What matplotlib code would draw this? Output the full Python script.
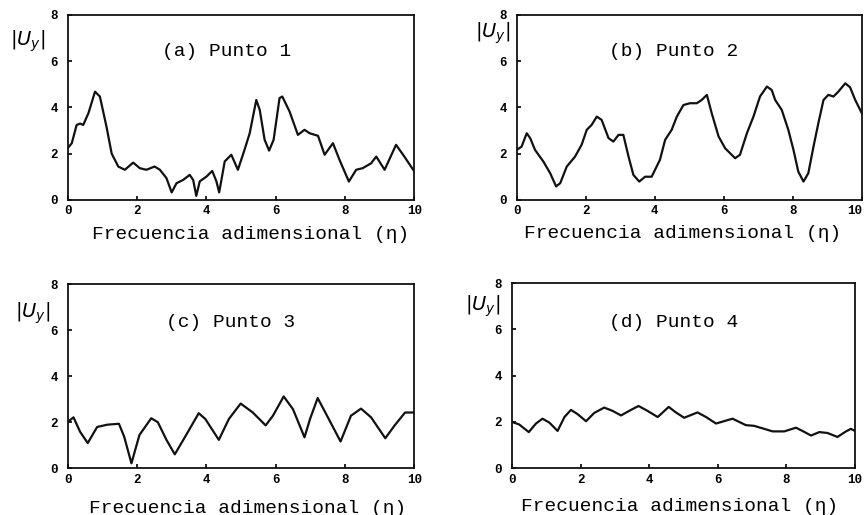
import matplotlib
matplotlib.use("Agg")
import matplotlib.pyplot as plt

plt.rcParams['font.family'] = ['Liberation Mono', 'DejaVu Sans Mono']

# punto 1
eta_a = [0, 0.12, 0.26, 0.36, 0.45, 0.6, 0.79, 0.93, 1.12, 1.27, 1.46, 1.65, 1.89, 2.08,
         2.27, 2.51, 2.66, 2.85, 3.0, 3.14, 3.33, 3.52, 3.62, 3.71, 3.81, 4.0, 4.17, 4.29,
         4.37, 4.53, 4.72, 4.91, 5.1, 5.25, 5.44, 5.54, 5.68, 5.81, 5.94, 6.11, 6.19, 6.4,
         6.64, 6.83, 6.98, 7.22, 7.41, 7.65, 7.84, 8.11, 8.32, 8.51, 8.75, 8.9, 9.14, 9.47,
         9.71, 10]
uy_a = [2.23, 2.45, 3.24, 3.3, 3.24, 3.75, 4.68, 4.47, 3.17, 2.0, 1.44, 1.3, 1.61, 1.37,
        1.3, 1.44, 1.3, 0.94, 0.32, 0.72, 0.86, 1.08, 0.86, 0.17, 0.8, 1.0, 1.25, 0.8,
        0.32, 1.66, 1.95, 1.3, 2.16, 2.88, 4.32, 3.89, 2.6, 2.13, 2.6, 4.4, 4.47, 3.82,
        2.81, 3.03, 2.88, 2.77, 1.95, 2.45, 1.73, 0.79, 1.3, 1.37, 1.58, 1.87, 1.3, 2.38,
        1.87, 1.22]

# punto 2
eta_b = [0, 0.14, 0.29, 0.39, 0.53, 0.77, 0.97, 1.14, 1.26, 1.45, 1.69, 1.88, 2.03, 2.17,
         2.32, 2.46, 2.66, 2.8, 2.95, 3.09, 3.24, 3.38, 3.55, 3.72, 3.91, 4.15, 4.3, 4.49,
         4.64, 4.83, 5.02, 5.22, 5.36, 5.51, 5.65, 5.85, 6.04, 6.18, 6.33, 6.47, 6.67, 6.86,
         7.05, 7.25, 7.39, 7.49, 7.68, 7.87, 8.02, 8.16, 8.31, 8.45, 8.6, 8.74, 8.89, 9.03,
         9.18, 9.32, 9.52, 9.66, 9.81, 10]
uy_b = [2.16, 2.3, 2.88, 2.67, 2.16, 1.66, 1.15, 0.58, 0.72, 1.44, 1.87, 2.38, 3.03, 3.24,
        3.6, 3.46, 2.67, 2.52, 2.81, 2.81, 1.87, 1.08, 0.79, 1.0, 1.0, 1.73, 2.59, 3.03,
        3.6, 4.1, 4.18, 4.18, 4.32, 4.54, 3.75, 2.74, 2.23, 2.02, 1.8, 1.95, 2.88, 3.6,
        4.47, 4.9, 4.75, 4.32, 3.89, 3.03, 2.16, 1.22, 0.79, 1.15, 2.3, 3.31, 4.32, 4.54,
        4.47, 4.68, 5.04, 4.87, 4.32, 3.75]

# punto 3
eta_c = [0.02, 0.17, 0.36, 0.58, 0.85, 1.14, 1.48, 1.63, 1.84, 2.07, 2.41, 2.6, 2.85, 3.09,
         3.39, 3.78, 3.97, 4.36, 4.65, 4.99, 5.34, 5.71, 5.92, 6.23, 6.5, 6.83, 6.99, 7.21,
         7.48, 7.87, 8.17, 8.46, 8.75, 9.16, 9.43, 9.73, 10]
uy_c = [2.03, 2.21, 1.58, 1.09, 1.79, 1.89, 1.93, 1.37, 0.21, 1.44, 2.17, 2.0, 1.23, 0.6,
        1.37, 2.39, 2.14, 1.23, 2.14, 2.81, 2.42, 1.86, 2.28, 3.12, 2.56, 1.34, 2.14, 3.05,
        2.28, 1.16, 2.28, 2.59, 2.21, 1.3, 1.86, 2.42, 2.42]

# punto 4
eta_d = [0, 0.21, 0.49, 0.7, 0.89, 1.09, 1.33, 1.53, 1.72, 1.91, 2.16, 2.4, 2.69, 2.93,
         3.18, 3.42, 3.69, 3.95, 4.25, 4.57, 4.78, 5.02, 5.41, 5.66, 5.95, 6.43, 6.82, 7.06,
         7.31, 7.6, 7.94, 8.28, 8.47, 8.72, 8.96, 9.2, 9.49, 9.74, 9.88, 10]
uy_d = [2.0, 1.89, 1.56, 1.93, 2.14, 1.97, 1.61, 2.21, 2.52, 2.34, 2.03, 2.39, 2.62, 2.48,
        2.28, 2.48, 2.69, 2.48, 2.21, 2.65, 2.41, 2.18, 2.41, 2.21, 1.93, 2.14, 1.86, 1.83,
        1.72, 1.59, 1.59, 1.75, 1.61, 1.41, 1.56, 1.52, 1.35, 1.59, 1.7, 1.61]

titles = ["(a) Punto 1", "(b) Punto 2", "(c) Punto 3", "(d) Punto 4"]
xticks = [0, 2, 4, 6, 8, 10]
yticks = [0, 2, 4, 6, 8]

fig = plt.figure(figsize=(8.67, 5.15), dpi=100)

# [left, bottom, width, height]
boxes = [[0.078, 0.612, 0.400, 0.359],
         [0.596, 0.612, 0.398, 0.359],
         [0.078, 0.091, 0.400, 0.357],
         [0.5905, 0.091, 0.3956, 0.359]]
ylab_pos = [(-0.115, 0.855), (-0.07, 0.90), (-0.10, 0.84), (-0.085, 0.876)]
title_pos = [(0.458, 0.80), (0.455, 0.80), (0.47, 0.79), (0.47, 0.79)]
xlab_pos = [(0.527, -0.19), (0.481, -0.18), (0.519, -0.217), (0.49, -0.205)]

series = [(eta_a, uy_a), (eta_b, uy_b), (eta_c, uy_c), (eta_d, uy_d)]

for i, (x, y) in enumerate(series):
    ax = fig.add_axes(boxes[i])
    ax.plot(x, y, color="#111111", lw=1.6)
    ax.set_xlim(0, 10)
    ax.set_ylim(0, 8)
    ax.set_xticks(xticks)
    ax.set_yticks(yticks)
    ax.tick_params(direction="in", length=3, width=1.2, labelsize=9)
    ax.tick_params(axis="y", pad=7)
    ax.tick_params(axis="x", pad=4)
    for lbl in ax.get_xticklabels() + ax.get_yticklabels():
        lbl.set_fontweight("bold")
    if i == 1:
        # the "10" sits right at the page edge in the scan
        ax.get_xticklabels()[-1].set_ha("right")
    for s in ax.spines.values():
        s.set_linewidth(1.3)
        s.set_color("#111111")
    ax.set_xlabel("Frecuencia adimensional (η)", fontsize=14, va="center")
    ax.xaxis.set_label_coords(*xlab_pos[i])
    ax.text(*title_pos[i], titles[i], transform=ax.transAxes, fontsize=14,
            ha="center", va="center")
    ax.text(*ylab_pos[i], r"$|U_{y}|$", transform=ax.transAxes, fontsize=14,
            ha="center", va="center", family="DejaVu Sans")

fig.savefig("out.png", dpi=100)
